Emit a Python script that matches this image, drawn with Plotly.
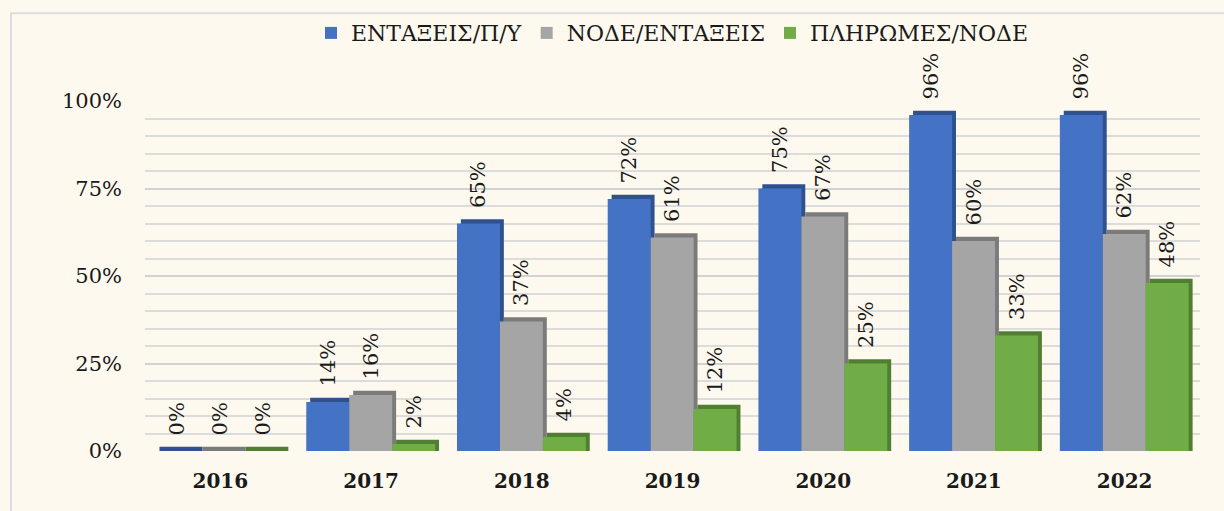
import plotly.graph_objects as go

years = ["2016", "2017", "2018", "2019", "2020", "2021", "2022"]
series_names = ["ΕΝΤΑΞΕΙΣ/Π/Υ", "ΝΟΔΕ/ΕΝΤΑΞΕΙΣ", "ΠΛΗΡΩΜΕΣ/ΝΟΔΕ"]
entaxeis = [0.00, 0.14, 0.65, 0.72, 0.75, 0.96, 0.96]
node = [0.00, 0.16, 0.37, 0.61, 0.67, 0.60, 0.62]
pliromes = [0.00, 0.02, 0.04, 0.12, 0.25, 0.33, 0.48]
tick_vals = [0, 0.25, 0.5, 0.75, 1.0]
tick_text = ["0%", "25%", "50%", "75%", "100%"]

front_colors = ["#4472C4", "#A5A5A5", "#70AD47"]
side_colors = ["#2F528F", "#7B7B7B", "#507E32"]
all_values = [entaxeis, node, pliromes]

FONT = "DejaVu Serif"
TXT = "#1a1a1a"
BG = "#FEF9EE"
bw = 0.285
offsets = [-0.43, -0.145, 0.14]
dx = 0.026
dy = 0.012
label_gap = 0.024

fig = go.Figure()
# depth (3D side/top) traces
for vals, sc, off in zip(all_values, side_colors, offsets):
    fig.add_trace(go.Bar(
        x=years, y=[v + dy for v in vals], width=bw, offset=off + dx,
        marker=dict(color=sc, line=dict(width=0)), showlegend=False,
        hoverinfo="skip"))
# front faces
for name, vals, fc, off in zip(series_names, all_values, front_colors, offsets):
    fig.add_trace(go.Bar(
        x=years, y=vals, name=name, width=bw, offset=off,
        marker=dict(color=fc, line=dict(width=0)),
        cliponaxis=False))
# data labels (transparent carrier bars slightly above each bar)
label_font = dict(family=FONT, size=21, color=TXT)
for vals, off in zip(all_values, offsets):
    fig.add_trace(go.Bar(
        x=years, y=[v + dy + label_gap for v in vals], width=bw, offset=off,
        marker=dict(color="rgba(0,0,0,0)", line=dict(width=0)),
        text=[f"{round(v*100)}%" for v in vals], textposition="outside",
        textangle=-90, constraintext="none",
        textfont=label_font, outsidetextfont=label_font,
        showlegend=False, hoverinfo="skip", cliponaxis=False))

fig.update_layout(
    barmode="overlay",
    width=1224, height=511,
    paper_bgcolor=BG, plot_bgcolor=BG,
    margin=dict(l=145, r=24, t=101, b=60),
    font=dict(family=FONT, size=20, color=TXT),
    legend=dict(orientation="h", x=0.5, xanchor="center", y=1.194, yanchor="middle",
                font=dict(family=FONT, size=22, color=TXT),
                bgcolor="rgba(0,0,0,0)", itemwidth=30, traceorder="normal"),
    xaxis=dict(tickfont=dict(family=FONT, size=20, color=TXT, weight="bold"),
               showgrid=False, showline=False, zeroline=False, ticks="",
               ticklabelstandoff=16),
    yaxis=dict(range=[0, 1.0], tickvals=tick_vals, ticktext=tick_text,
               showgrid=True, gridcolor="#D2D2D2", gridwidth=2,
               zeroline=False, showline=False,
               tickfont=dict(family=FONT, size=21, color=TXT),
               ticklabelstandoff=22),
    showlegend=True,
    shapes=[dict(type="rect", xref="paper", yref="paper",
                 x0=-0.127, x1=1.05, y0=-0.3, y1=1.251,
                 line=dict(color="#DDDDDD", width=2), layer="below")],
)
fig.update_yaxes(minor=dict(dtick=0.05, showgrid=True, gridcolor="#DCDCDC", gridwidth=2))

fig.write_html("out.html", config={"displayModeBar": False},
               post_script="document.body.style.margin='0';document.body.style.background='%s';" % BG)
